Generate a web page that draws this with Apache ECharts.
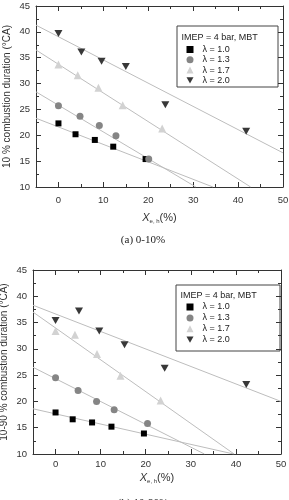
<!DOCTYPE html>
<html>
<head>
<meta charset="utf-8">
<script src="https://cdn.jsdelivr.net/npm/echarts@6/dist/echarts.min.js"></script>
<style>
  html, body { margin: 0; padding: 0; background: #fff; }
  #chart { width: 289px; height: 500px; }
</style>
</head>
<body>
<div id="chart"></div>
<script>
const lambdaNames = ['λ = 1.0', 'λ = 1.3', 'λ = 1.7', 'λ = 2.0']
const xTicks = [0, 10, 20, 30, 40, 50]

// (a) 0-10 % combustion duration, [X_e,h (%), °CA]
const a10 = [[0, 22.3], [3.8, 20.2], [8.1, 19.1], [12.2, 17.8], [19.4, 15.4]]
const a13 = [[0, 25.7], [4.8, 23.7], [9.1, 21.9], [12.8, 19.9], [20.1, 15.4]]
const a17 = [[0, 33.7], [4.3, 31.6], [8.9, 29.2], [14.3, 25.8], [23.1, 21.3]]
const a20 = [[0, 39.7], [5.1, 36.1], [9.6, 34.3], [15.0, 33.3], [23.8, 25.9], [41.8, 20.8]]
// fitted lines (end points)
const fitA10 = [[-5, 23.3], [34.4, 10]]
const fitA13 = [[-5, 28.4], [30.6, 10]]
const fitA17 = [[-5, 36.5], [42.8, 10]]
const fitA20 = [[-5, 41.3], [50, 16.6]]

// (b) 10-90 % combustion duration
const b10 = [[0, 17.9], [3.8, 16.6], [8.1, 16.0], [12.4, 15.2], [19.6, 13.9]]
const b13 = [[0, 24.5], [5.0, 22.1], [9.1, 20.0], [13.0, 18.4], [20.4, 15.8]]
const b17 = [[0, 33.4], [4.3, 32.7], [9.2, 29.0], [14.4, 24.9], [23.3, 20.2]]
const b20 = [[0, 35.4], [5.2, 37.2], [9.7, 33.4], [15.3, 30.8], [24.2, 26.3], [42.3, 23.2]]
const fitB10 = [[-5, 18.6], [39.5, 10]]
const fitB13 = [[-5, 26.5], [33.0, 10]]
const fitB17 = [[-5, 37.0], [39.6, 10]]
const fitB20 = [[-5, 38.3], [50, 20.0]]

const colors = ['#000000', '#858585', '#d2d2d2', '#383838']
const symbols = ['rect', 'circle', 'triangle', 'path://M0,0L10,0L5,9Z']
const sizes = [6, 7, 8, [8, 7]]
const font = '"Liberation Sans", Arial, sans-serif'
const axisColor = '#333'

const chart = echarts.init(document.getElementById('chart'))

function xAxesFor(gridIndex, labelMargin, nameGap) {
  const base = {
    gridIndex, type: 'value', min: -5, max: 50,
    splitLine: { show: false }
  }
  const line = { show: true, onZero: false, lineStyle: { color: axisColor, width: 1 } }
  const tick = len => ({ show: true, inside: true, length: len, lineStyle: { color: axisColor } })
  return [
    {
      ...base, position: 'bottom', interval: 5,
      axisLine: line, axisTick: tick(3),
      axisLabel: {
        margin: labelMargin, color: '#333', fontSize: 9.5, fontFamily: font,
        formatter: v => (xTicks.includes(v) ? String(v) : '')
      },
      name: '{x|X}{s|e, h}{n|(%)}',
      nameLocation: 'middle',
      nameGap,
      nameMoveOverlap: false,
      nameTextStyle: {
        rich: {
          x: { fontSize: 11, fontStyle: 'italic', fontFamily: font, color: '#333' },
          s: { fontSize: 6, fontFamily: font, color: '#333', padding: [6, 0, 0, 0] },
          n: { fontSize: 11, fontFamily: font, color: '#333' }
        }
      }
    },
    { ...base, position: 'top', interval: 5, axisLine: line, axisTick: tick(3), axisLabel: { show: false } },
    { ...base, position: 'top', splitNumber: 5, axisLine: { show: false, onZero: false }, axisTick: tick(5), axisLabel: { show: false } },
    { ...base, position: 'bottom', splitNumber: 5, axisLine: { show: false, onZero: false }, axisTick: tick(5), axisLabel: { show: false } }
  ]
}

function yAxesFor(gridIndex, name) {
  const base = {
    gridIndex, type: 'value', min: 10, max: 45, interval: 5,
    axisLine: { show: true, onZero: false, lineStyle: { color: axisColor, width: 1 } },
    axisTick: { show: true, inside: true, length: 5, lineStyle: { color: axisColor } },
    minorTick: { show: true, splitNumber: 2, length: 3, lineStyle: { color: axisColor } },
    splitLine: { show: false }
  }
  return [
    {
      ...base, position: 'left',
      axisLabel: { margin: 6, color: '#333', fontSize: 9.5, fontFamily: font },
      name,
      nameLocation: 'middle',
      nameGap: 24,
      nameMoveOverlap: false,
      nameTextStyle: { fontSize: 10, fontFamily: font, color: '#333' }
    },
    { ...base, position: 'right', axisLabel: { show: false } }
  ]
}

function seriesFor(points, fits, xi, yi) {
  const out = []
  fits.forEach(d => out.push({
    type: 'line', xAxisIndex: xi, yAxisIndex: yi, data: d,
    symbol: 'none', silent: true, z: 1,
    lineStyle: { color: '#bdbdbd', width: 1 }
  }))
  points.forEach((d, i) => out.push({
    type: 'scatter', name: lambdaNames[i], xAxisIndex: xi, yAxisIndex: yi, data: d,
    symbol: symbols[i], symbolSize: sizes[i], z: 3,
    itemStyle: { color: colors[i], opacity: 1 }
  }))
  return out
}

function legendFor(top, gap) {
  return {
    data: lambdaNames, orient: 'vertical', left: 186.5, top,
    itemWidth: 7, itemHeight: 7, itemGap: gap, padding: 0,
    selectedMode: false, z: 20,
    textStyle: { fontSize: 9, lineHeight: 10, fontFamily: font, color: '#222', padding: [0, 0, 0, 4] }
  }
}

function boxFor(x, y, w, h) {
  return { type: 'rect', z: 0, shape: { x, y, width: w, height: h }, style: { fill: 'none', stroke: '#444', lineWidth: 1 } }
}

function labelText(text, x, y, f, align) {
  return {
    type: 'text', z: 0,
    style: { text, x, y, font: f, fill: '#222', textAlign: align, textVerticalAlign: 'middle', align, verticalAlign: 'middle' }
  }
}

chart.setOption({
  animation: false,
  grid: [
    { left: 36, top: 6, width: 247, height: 181, outerBoundsMode: 'none' },
    { left: 33, top: 270, width: 248, height: 184, outerBoundsMode: 'none' }
  ],
  xAxis: [...xAxesFor(0, 8, 25), ...xAxesFor(1, 5, 18)],
  yAxis: [
    ...yAxesFor(0, '10 % combustion duration (°CA)'),
    ...yAxesFor(1, '10-90 % combustion duration (°CA)')
  ],
  legend: [legendFor(44.5, 0.3), legendFor(302, 0.9)],
  graphic: [
    boxFor(177, 26, 101, 61),
    labelText('IMEP = 4 bar, MBT', 181.5, 37.7, '9px ' + font, 'left'),
    boxFor(176, 285, 104, 66),
    labelText('IMEP = 4 bar, MBT', 180.5, 295.7, '9px ' + font, 'left'),
    labelText('(a) 0-10%', 143, 240.5, '11px "Liberation Serif", "Times New Roman", serif', 'center'),
    labelText('(b) 10-90%', 143, 503, '11px "Liberation Serif", "Times New Roman", serif', 'center')
  ],
  series: [
    ...seriesFor([a10, a13, a17, a20], [fitA10, fitA13, fitA17, fitA20], 0, 0),
    ...seriesFor([b10, b13, b17, b20], [fitB10, fitB13, fitB17, fitB20], 4, 2)
  ]
})
</script>
</body>
</html>
